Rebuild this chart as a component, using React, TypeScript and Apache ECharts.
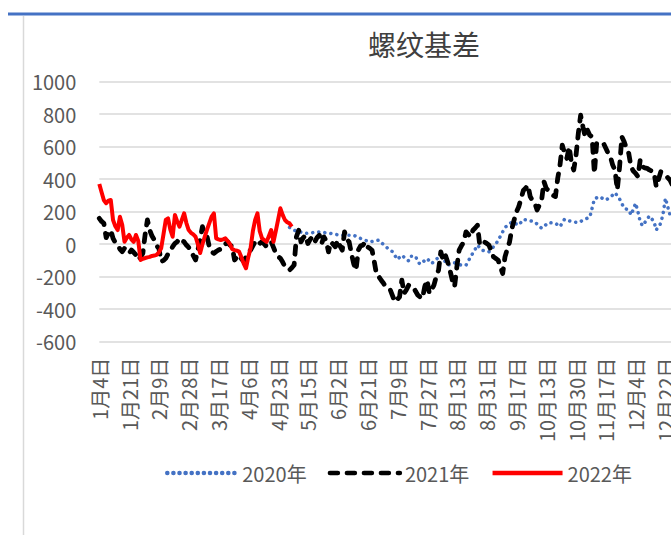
import React, { useEffect, useRef } from 'react';
import * as echarts from 'echarts';

// Tick labels shown on the category axis (one every 13 categories)
const tickLabels = [
  '1月4日', '1月21日', '2月9日', '2月28日', '3月17日', '4月6日', '4月23日',
  '5月15日', '6月2日', '6月21日', '7月9日', '7月27日', '8月13日', '8月31日',
  '9月17日', '10月13日', '10月30日', '11月17日', '12月4日', '12月22日',
];
const CATS_PER_TICK = 13;
const TOTAL_CATS = 260;

// 2022 basis (daily, from 1月4日)
const s2022 = [
  370, 320, 270, 252, 268, 272, 149, 110, 87, 169, 120, 15, 40, 57, 30, 15, 57, 20, -97, -90,
  -85, -81, -78, -72, -70, -66, -50, -25, 60, 149, 159, 90, 46, 180, 140, 108, 150, 190, 130, 87,
  70, 60, 46, 0, -54, 0, 46, 90, 130, 170, 190, 36, 30, 26, 30, 36, 20, 0, -30, -36,
  -40, -46, -80, -120, -148, -80, -25, 80, 150, 190, 80, 36, 25, 15, 50, 87, 15, 80, 150, 221,
  180, 149, 135, 128, 108,
];

// 2021 basis (daily, from 1月4日)
const s2021 = [
  159, 140, 128, 40, 70, 87, 36, 10, -5, -30, -46, -25, -40, -56, -36, -50, -66, -97, -80, -56,
  60, 149, 87, 50, 26, -10, -25, -107, -100, -87, -60, -40, -15, 5, 15, 36, 20, 15, -5, -20,
  -46, -70, -97, -36, 30, 108, 60, 46, -15, -46, -56, -45, -36, -30, -25, 0, 15, -5, -15, -97,
  -80, -66, -90, -107, -80, -50, -36, -10, 15, -5, 5, 15, 0, -15, 0, 15, -20, -56, -75, -87,
  -110, -138, -150, -159, -145, -128, 46, 86, 14, 40, 55, 4, 30, 45, 14, 40, 55, 4, 45, 20,
  -47, 14, 0, -16, 25, -10, -37, 76, 30, 14, -57, -120, -160, -37, -10, -6, 14, -16, -25, -37,
  -109, -190, -201, -222, -240, -263, -275, -283, -320, -355, -340, -324, -221, -303, -280, -252, -258, -262, -290, -314,
  -325, -334, -260, -221, -303, -280, -252, -200, -160, -47, -98, -68, -110, -160, -220, -262, -139, -37, -10, 14,
  76, 60, 45, 86, 100, 117, -6, 5, 14, 5, -6, -40, -78, -88, -98, -140, -180, -78, -30, 14,
  96, 150, 199, 230, 280, 330, 344, 364, 293, 270, 252, 211, 240, 272, 385, 344, 330, 313, 300, 293,
  405, 487, 610, 560, 528, 600, 500, 457, 549, 682, 794, 723, 661, 702, 671, 661, 436, 620, 610, 615,
  620, 590, 560, 538, 487, 457, 334, 477, 661, 630, 590, 559, 477, 450, 436, 416, 518, 477, 470, 467,
  457, 450, 446, 354, 400, 446, 435, 426, 410, 395, 364, 380, 370,
];

// 2020 basis: [category index, value]
const s2020 = [
  [83, 103], [85, 86], [90, 66], [96, 76], [101, 66], [105, 55], [111, 55], [114, 35], [118, 14], [122, 25],
  [125, -16], [128, -47], [130, -94], [132, -68], [135, -103], [136, -74], [138, -74], [139, -109], [140, -123], [143, -88],
  [145, -119], [149, -68], [152, -129], [155, -115], [158, -129], [160, -129], [162, -78], [164, -31], [165, -6], [167, -37],
  [170, -47], [173, 0], [175, 49], [177, 103], [180, 137], [183, 117], [185, 152], [187, 148], [190, 137], [193, 98],
  [196, 133], [199, 129], [201, 108], [203, 154], [206, 139], [209, 133], [212, 154], [214, 166], [215, 221], [216, 278],
  [218, 293], [221, 272], [223, 289], [225, 317], [227, 278], [229, 221], [231, 211], [232, 180], [234, 252], [235, 200],
  [236, 139], [237, 113], [238, 133], [240, 174], [242, 139], [243, 88], [245, 129], [246, 190], [247, 283], [248, 231],
  [249, 180], [251, 150],
];

const seriesNames = ['2020年', '2021年', '2022年'];

const FONT = "'Noto Sans CJK SC', 'Noto Sans', sans-serif";

export default function App() {
  const ref = useRef<HTMLDivElement>(null);

  useEffect(() => {
    if (!ref.current) return;
    const chart = echarts.init(ref.current, undefined, { renderer: 'svg' });

    const categories: string[] = [];
    for (let i = 0; i < TOTAL_CATS; i++) {
      categories.push(i % CATS_PER_TICK === 0 ? tickLabels[i / CATS_PER_TICK] : `#${i}`);
    }

    chart.setOption({
      animation: false,
      backgroundColor: '#ffffff',
      title: {
        text: '螺纹基差',
        left: 419,
        top: 25,
        textAlign: 'center',
        textStyle: { fontSize: 28, fontWeight: 'normal', color: '#404040', fontFamily: FONT },
      },
      graphic: [
        { type: 'line', shape: { x1: 8, y1: 14, x2: 900, y2: 14 }, style: { stroke: '#4472C4', lineWidth: 3 } },
        { type: 'line', shape: { x1: 23.5, y1: 16, x2: 23.5, y2: 535 }, style: { stroke: '#d9d9d9', lineWidth: 1.5 } },
      ],
      legend: {
        left: 160,
        top: 458,
        itemWidth: 70,
        itemHeight: 14,
        itemGap: 21,
        data: seriesNames,
        itemStyle: { opacity: 0 },
        lineStyle: { width: 4.5 },
        textStyle: { fontSize: 20, color: '#595959', fontFamily: FONT },
      },
      grid: { left: 99.3, top: 81.7, width: 2.292 * (TOTAL_CATS - 1), height: 260, containLabel: false },
      xAxis: {
        type: 'category',
        data: categories,
        boundaryGap: false,
        axisLine: { show: false },
        axisTick: { show: false },
        axisLabel: {
          interval: CATS_PER_TICK - 1,
          rotate: 90,
          margin: 16,
          fontSize: 20,
          color: '#595959',
          fontFamily: FONT,
        },
        splitLine: { show: false },
      },
      yAxis: {
        type: 'value',
        min: -600,
        max: 1000,
        interval: 200,
        axisLine: { show: false },
        axisTick: { show: false },
        axisLabel: {
          fontSize: 20,
          color: '#595959',
          margin: 23,
          fontFamily: FONT,
          formatter: (v: number) => String(v),
        },
        splitLine: { lineStyle: { color: '#d9d9d9', width: 1.5 } },
      },
      series: [
        {
          name: seriesNames[0],
          type: 'line',
          data: s2020,
          showSymbol: false,
          symbol: 'none',
          color: '#4472C4',
          lineStyle: { color: '#4472C4', width: 3.5, type: [0.1, 6], cap: 'round', join: 'round' },
        },
        {
          name: seriesNames[1],
          type: 'line',
          data: s2021,
          showSymbol: false,
          symbol: 'none',
          color: '#000000',
          lineStyle: { color: '#000000', width: 4.8, type: [8, 9], cap: 'round', join: 'round' },
        },
        {
          name: seriesNames[2],
          type: 'line',
          data: s2022,
          showSymbol: false,
          symbol: 'none',
          color: '#ff0000',
          lineStyle: { color: '#ff0000', width: 4, join: 'round' },
        },
      ],
    });

    return () => chart.dispose();
  }, []);

  return (
    <div style={{ position: 'fixed', left: 0, top: 0, width: 671, height: 535, overflow: 'hidden', background: '#fff' }}>
      <div ref={ref} style={{ width: 820, height: 535 }} />
    </div>
  );
}
